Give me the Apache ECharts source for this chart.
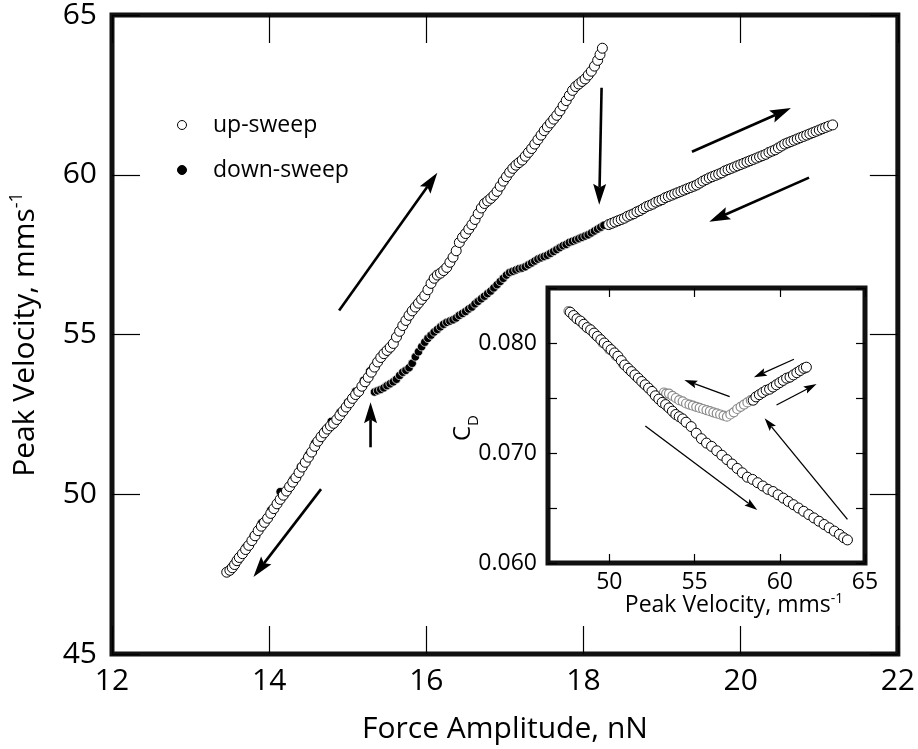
<!DOCTYPE html>
<html><head><meta charset="utf-8">
<script src="https://cdn.jsdelivr.net/npm/echarts@6/dist/echarts.min.js"></script>
<style>html,body{margin:0;padding:0;background:#fff}#c{width:918px;height:749px}</style>
</head><body><div id="c"></div>
<script>
// ---------- main panel data: Force amplitude (nN) vs peak velocity (mm/s) ----------
const upUpperF = [13.46,13.50,13.53,13.56,13.59,13.62,13.66,13.70,13.74,13.78,13.82,13.86,13.90,13.94,13.98,14.02,14.06,14.10,14.14,14.18,14.22,14.26,14.30,14.34,14.38,14.42,14.46,14.50,14.54,14.58,14.62,14.66,14.70,14.74,14.78,14.82,14.86,14.90,14.94,14.98,15.02,15.06,15.10,15.14,15.18,15.22,15.26,15.30,15.34,15.38,15.42,15.46,15.50,15.54,15.58,15.62,15.66,15.70,15.74,15.78,15.82,15.86,15.90,15.94,15.98,16.02,16.06,16.10,16.14,16.18,16.22,16.26,16.30,16.34,16.38,16.42,16.46,16.50,16.54,16.58,16.62,16.66,16.70,16.74,16.78,16.82,16.86,16.90,16.94,16.98,17.02,17.06,17.10,17.14,17.18,17.22,17.26,17.30,17.34,17.38,17.42,17.46,17.50,17.54,17.58,17.62,17.66,17.70,17.74,17.78,17.82,17.86,17.90,17.94,17.98,18.02,18.06,18.10,18.14,18.18,18.21,18.24];
const upUpperV = [47.56,47.62,47.70,47.80,47.92,48.02,48.14,48.27,48.40,48.55,48.70,48.86,49.00,49.12,49.25,49.40,49.55,49.70,49.84,49.97,50.10,50.24,50.38,50.52,50.68,50.85,51.00,51.16,51.32,51.50,51.66,51.80,51.92,52.04,52.14,52.22,52.34,52.47,52.60,52.73,52.86,53.00,53.12,53.22,53.38,53.52,53.66,53.82,53.98,54.14,54.28,54.40,54.50,54.60,54.72,54.92,55.10,55.28,55.44,55.60,55.74,55.86,55.98,56.10,56.22,56.40,56.60,56.76,56.86,56.92,57.00,57.10,57.26,57.42,57.62,57.88,58.04,58.16,58.30,58.44,58.60,58.78,58.96,59.10,59.18,59.26,59.36,59.48,59.64,59.80,59.94,60.08,60.20,60.30,60.38,60.46,60.58,60.70,60.82,60.96,61.10,61.24,61.38,61.50,61.62,61.74,61.86,62.00,62.16,62.32,62.48,62.64,62.76,62.84,62.92,63.00,63.12,63.24,63.40,63.58,63.76,63.96];
const upLowerF = [18.32,18.36,18.40,18.44,18.48,18.52,18.56,18.60,18.64,18.68,18.72,18.76,18.80,18.84,18.88,18.92,18.96,19.00,19.04,19.08,19.12,19.16,19.20,19.24,19.28,19.32,19.36,19.40,19.44,19.48,19.52,19.56,19.60,19.64,19.68,19.72,19.76,19.80,19.84,19.88,19.92,19.96,20.00,20.04,20.08,20.12,20.16,20.20,20.24,20.28,20.32,20.36,20.40,20.44,20.48,20.52,20.56,20.60,20.64,20.68,20.72,20.76,20.80,20.84,20.88,20.92,20.96,21.00,21.04,21.08,21.12,21.17];
const upLowerV = [58.44,58.48,58.52,58.56,58.60,58.64,58.70,58.74,58.78,58.84,58.88,58.94,59.00,59.04,59.08,59.14,59.18,59.22,59.28,59.32,59.36,59.40,59.44,59.48,59.52,59.56,59.60,59.64,59.68,59.74,59.80,59.85,59.90,59.94,59.98,60.02,60.06,60.12,60.16,60.20,60.24,60.28,60.32,60.36,60.40,60.44,60.48,60.52,60.56,60.60,60.64,60.70,60.74,60.78,60.84,60.90,60.96,61.00,61.04,61.08,61.12,61.16,61.20,61.24,61.28,61.32,61.36,61.40,61.44,61.48,61.52,61.56];
const downLowerF = [15.34,15.38,15.42,15.46,15.50,15.54,15.58,15.62,15.66,15.70,15.74,15.78,15.82,15.86,15.90,15.94,15.98,16.02,16.06,16.10,16.14,16.18,16.22,16.26,16.30,16.34,16.38,16.42,16.46,16.50,16.54,16.58,16.62,16.66,16.70,16.74,16.78,16.82,16.86,16.90,16.94,16.98,17.02,17.06,17.10,17.14,17.18,17.22,17.26,17.30,17.34,17.38,17.42,17.46,17.50,17.54,17.58,17.62,17.66,17.70,17.74,17.78,17.82,17.86,17.90,17.94,17.98,18.02,18.06,18.10,18.14,18.18,18.22,18.26,18.40,18.60,18.80,18.91,19.10,19.40,19.70,20.00,20.30,20.60,20.90,21.15];
const downLowerV = [53.20,53.24,53.28,53.33,53.40,53.46,53.52,53.60,53.72,53.82,53.88,53.96,54.10,54.30,54.46,54.62,54.76,54.88,54.98,55.08,55.16,55.24,55.32,55.38,55.42,55.46,55.52,55.60,55.66,55.72,55.80,55.86,55.96,56.04,56.12,56.20,56.28,56.36,56.46,56.56,56.66,56.76,56.86,56.94,56.98,57.02,57.06,57.08,57.12,57.18,57.24,57.30,57.36,57.40,57.44,57.48,57.54,57.60,57.66,57.72,57.78,57.82,57.88,57.92,57.96,58.00,58.04,58.08,58.12,58.18,58.24,58.30,58.36,58.42,58.54,58.75,59.02,59.16,59.34,59.62,60.00,60.30,60.62,60.98,61.30,61.54];
const downUpperF = [15.28,15.20,15.10,15.00,14.90,14.79,14.70,14.58,14.50,14.40,14.30,14.14,14.02,13.90,13.80,13.70,13.60,13.52];
const downUpperV = [53.86,53.56,53.22,52.88,52.56,52.28,51.98,51.60,51.24,50.86,50.46,50.08,49.50,49.10,48.70,48.34,48.00,47.72];

// ---------- inset data: drag coefficient vs peak velocity ----------
const insetUpV = [47.70,47.90,48.10,48.30,48.50,48.70,48.90,49.10,49.30,49.50,49.70,49.90,50.10,50.30,50.50,50.70,50.90,51.10,51.30,51.50,51.70,51.90,52.10,52.30,52.50,52.70,52.90,53.10,53.30,53.50,53.70,53.90,54.10,54.30,54.50,54.80,55.10,55.40,55.70,56.00,56.30,56.60,56.90,57.20,57.50,57.80,58.10,58.40,58.70,59.00,59.30,59.60,59.90,60.20,60.50,60.80,61.10,61.40,61.70,62.00,62.30,62.60,62.90,63.20,63.50,63.75,63.97,
  58.44,58.60,58.80,59.00,59.20,59.40,59.60,59.80,60.00,60.20,60.40,60.60,60.80,61.00,61.20,61.40,61.56];
const insetUpCD = [0.0828,0.0825,0.0822,0.0820,0.0817,0.0814,0.0812,0.0809,0.0806,0.0803,0.0800,0.0797,0.0794,0.0791,0.0788,0.0784,0.0780,0.0777,0.0774,0.0771,0.0768,0.0765,0.0762,0.0759,0.0756,0.0752,0.0749,0.0746,0.0744,0.0741,0.0738,0.0735,0.0733,0.0731,0.0728,0.0724,0.0718,0.0713,0.0709,0.0706,0.0702,0.0698,0.0694,0.0690,0.0686,0.0682,0.0678,0.0676,0.0673,0.0670,0.0667,0.0665,0.0662,0.0659,0.0656,0.0653,0.0650,0.0647,0.0644,0.0641,0.0638,0.0635,0.0632,0.0629,0.0626,0.0623,0.0621,
  0.0748,0.0751,0.0753,0.0755,0.0757,0.0758,0.0760,0.0762,0.0764,0.0766,0.0768,0.0769,0.0771,0.0773,0.0775,0.0777,0.0778];
const insetDownV = [53.20,53.33,53.50,53.70,53.90,54.10,54.30,54.50,54.70,54.90,55.10,55.30,55.50,55.70,55.90,56.10,56.30,56.50,56.70,56.90,57.10,57.30,57.50,57.70,57.90,58.10,58.30,58.60,59.00,59.50,60.00,60.50,61.00,61.50,
  53.80,53.40,53.00,52.60,52.30,52.00,51.60,51.20,50.80,50.40,50.00,49.60,49.20,48.80,48.40,48.00,47.60];
const insetDownCD = [0.0755,0.0754,0.0754,0.0752,0.0750,0.0748,0.0747,0.0745,0.0744,0.0743,0.0742,0.0741,0.0740,0.0739,0.0738,0.0737,0.0736,0.0735,0.0734,0.0733,0.0735,0.0737,0.0740,0.0742,0.0744,0.0746,0.0748,0.0751,0.0755,0.0759,0.0764,0.0768,0.0773,0.0777,
  0.0736,0.0742,0.0748,0.0754,0.0759,0.0763,0.0769,0.0775,0.0781,0.0788,0.0794,0.0800,0.0807,0.0813,0.0819,0.0824,0.0829];

// ---------- axes / ticks ----------
const mainXTicks = [12,14,16,18,20,22];
const mainYTicks = [45,50,55,60,65];
const insetXTicks = [50,55,60,65];
const insetYTicks = [0.060,0.065,0.070,0.075,0.080,0.085];
const insetYLabels = [0.060,0.070,0.080];

// ---------- annotation arrows (data units) ----------
const mainArrows = [[14.89,55.75,16.14,60.06],[18.23,62.72,18.20,59.06],[19.38,60.72,20.64,62.09],[20.87,59.91,19.60,58.53],[15.29,51.47,15.29,52.88],[14.66,50.16,13.80,47.41]];
const insetArrows = [[60.83,0.07852,58.48,0.07688],[57.06,0.07512,54.40,0.07664],[59.81,0.07436,62.16,0.07627],[63.97,0.06397,59.11,0.07315],[52.11,0.07245,58.68,0.06482]];

const zip = (a,b) => a.map((v,i)=>[v,b[i]]);
const FF = '"Open Sans", sans-serif';

const chart = echarts.init(document.getElementById('c'), null, {renderer:'canvas'});
const tickAx = (len) => ({show:true, inside:true, length:len, lineStyle:{color:'#000', width:1.2}});

const option = {
  animation:false,
  backgroundColor:'#fff',
  grid:[
    {left:112, top:15, width:793, height:640, show:true, borderColor:'#111', borderWidth:5, backgroundColor:'transparent', z:0},
    {left:548, top:288, width:317, height:275, show:true, borderColor:'#111', borderWidth:5, backgroundColor:'#fff', z:5}
  ],
  xAxis:[
    {gridIndex:0, type:'value', min:12, max:22, interval:2, position:'bottom',
     axisLine:{show:false}, axisTick:tickAx(28), splitLine:{show:false},
     axisLabel:{fontSize:30, color:'#000', fontFamily:FF, margin:12, showMinLabel:true, showMaxLabel:true, customValues: mainXTicks},
     name:'Force Amplitude, nN', nameLocation:'middle', nameGap:60,
     nameTextStyle:{fontSize:30, color:'#000', fontFamily:FF}},
    {gridIndex:0, type:'value', min:12, max:22, interval:2, position:'top',
     axisLine:{show:false}, axisTick:tickAx(28), splitLine:{show:false}, axisLabel:{show:false}},
    {gridIndex:1, type:'value', min:46.4, max:65, position:'bottom', z:6,
     axisLine:{show:false}, axisTick:{show:true, inside:true, length:9, lineStyle:{color:'#000', width:1.2}, customValues:insetXTicks},
     splitLine:{show:false},
     axisLabel:{fontSize:23, color:'#000', fontFamily:FF, margin:8, customValues:insetXTicks}},
    {gridIndex:1, type:'value', min:46.4, max:65, position:'top', z:6,
     axisLine:{show:false}, axisTick:{show:true, inside:true, length:9, lineStyle:{color:'#000', width:1.2}, customValues:insetXTicks},
     splitLine:{show:false}, axisLabel:{show:false}}
  ],
  yAxis:[
    {gridIndex:0, type:'value', min:45, max:65, interval:5, position:'left',
     axisLine:{show:false}, axisTick:tickAx(28), splitLine:{show:false},
     axisLabel:{fontSize:30, color:'#000', fontFamily:FF, margin:15, customValues: mainYTicks},
     name:'{n|Peak Velocity, mms}{s|-1}', nameLocation:'middle', nameGap:70,
     nameTextStyle:{fontSize:30, color:'#000', fontFamily:FF,
       rich:{n:{fontSize:30, fontFamily:FF, color:'#000', lineHeight:34}, s:{fontSize:18, fontFamily:FF, color:'#000', verticalAlign:'top', lineHeight:34}}}},
    {gridIndex:0, type:'value', min:45, max:65, interval:5, position:'right',
     axisLine:{show:false}, axisTick:tickAx(28), splitLine:{show:false}, axisLabel:{show:false}},
    {gridIndex:1, type:'value', min:0.060, max:0.085, interval:0.005, position:'left', z:6,
     axisLine:{show:false}, axisTick:{show:true, inside:true, length:9, lineStyle:{color:'#000', width:1.2}, customValues:insetYTicks},
     splitLine:{show:false},
     axisLabel:{fontSize:23, color:'#000', fontFamily:FF, margin:11, customValues:insetYLabels, formatter:(v)=>Number(v).toFixed(3)}},
    {gridIndex:1, type:'value', min:0.060, max:0.085, interval:0.005, position:'right', z:6,
     axisLine:{show:false}, axisTick:{show:true, inside:true, length:9, lineStyle:{color:'#000', width:1.2}, customValues:insetYTicks},
     splitLine:{show:false}, axisLabel:{show:false}}
  ],
  series:[
    {name:'down-sweep', type:'scatter', xAxisIndex:0, yAxisIndex:0, z:2,
     data: zip(downLowerF,downLowerV).concat(zip(downUpperF,downUpperV)),
     symbol:'circle', symbolSize:8.5, itemStyle:{color:'#000', borderColor:'#fff', borderWidth:0.7, opacity:1}},
    {name:'up-sweep', type:'scatter', xAxisIndex:0, yAxisIndex:0, z:3,
     data: zip(upUpperF,upUpperV).concat(zip(upLowerF,upLowerV)),
     symbol:'circle', symbolSize:10, itemStyle:{color:'#fff', borderColor:'#000', borderWidth:1, opacity:1}},
    {name:'down-sweep-inset', type:'scatter', xAxisIndex:2, yAxisIndex:2, z:6,
     data: zip(insetDownV,insetDownCD),
     symbol:'circle', symbolSize:9, itemStyle:{color:'#fff', borderColor:'#8a8a8a', borderWidth:1.2, opacity:1}},
    {name:'up-sweep-inset', type:'scatter', xAxisIndex:2, yAxisIndex:2, z:7,
     data: zip(insetUpV,insetUpCD),
     symbol:'circle', symbolSize:10, itemStyle:{color:'#fff', borderColor:'#000', borderWidth:1, opacity:1}}
  ]
};
chart.setOption(option);

function arrowEls(p1, p2, w, headLen, headHalf){
  const dx=p2[0]-p1[0], dy=p2[1]-p1[1], L=Math.hypot(dx,dy), ux=dx/L, uy=dy/L, nx=-uy, ny=ux;
  const bx=p2[0]-ux*headLen, by=p2[1]-uy*headLen;
  const mx=p2[0]-ux*headLen*0.82, my=p2[1]-uy*headLen*0.82;
  return [
    {type:'line', z:20, shape:{x1:p1[0],y1:p1[1],x2:mx,y2:my}, style:{stroke:'#000', lineWidth:w}},
    {type:'polygon', z:20, shape:{points:[[p2[0],p2[1]],[bx+nx*headHalf,by+ny*headHalf],[mx,my],[bx-nx*headHalf,by-ny*headHalf]]}, style:{fill:'#000'}}
  ];
}
const g = [];
mainArrows.forEach(a=>{
  const p1=chart.convertToPixel({gridIndex:0},[a[0],a[1]]), p2=chart.convertToPixel({gridIndex:0},[a[2],a[3]]);
  g.push(...arrowEls(p1,p2,2.6,21,6.5));
});
insetArrows.forEach(a=>{
  const p1=chart.convertToPixel({xAxisIndex:2,yAxisIndex:2},[a[0],a[1]]), p2=chart.convertToPixel({xAxisIndex:2,yAxisIndex:2},[a[2],a[3]]);
  g.push(...arrowEls(p1,p2,1.3,13,4));
});
// legend
g.push({type:'circle', z:20, shape:{cx:182, cy:125, r:4.5}, style:{fill:'#fff', stroke:'#000', lineWidth:1}});
g.push({type:'text', z:20, x:213, y:125, style:{text:'up-sweep', fill:'#000', font:'23px "Open Sans", sans-serif', textVerticalAlign:'middle', verticalAlign:'middle'}});
g.push({type:'circle', z:20, shape:{cx:182, cy:170, r:4.5}, style:{fill:'#000', stroke:'#000', lineWidth:1}});
g.push({type:'text', z:20, x:213, y:170, style:{text:'down-sweep', fill:'#000', font:'23px "Open Sans", sans-serif', textVerticalAlign:'middle', verticalAlign:'middle'}});
// inset axis titles
g.push({type:'text', z:20, x:734, y:605, style:{text:'{n|Peak Velocity, mms}{s|-1}', align:'center', verticalAlign:'middle', textAlign:'center', textVerticalAlign:'middle',
  rich:{n:{fontSize:23, fontFamily:FF, fill:'#000', color:'#000', lineHeight:26}, s:{fontSize:14, fontFamily:FF, fill:'#000', color:'#000', verticalAlign:'top', lineHeight:26}}}});
g.push({type:'text', z:20, x:463, y:428, rotation:Math.PI/2, style:{text:'{c|C}{d|D}', align:'center', verticalAlign:'middle', textAlign:'center', textVerticalAlign:'middle',
  rich:{c:{fontSize:24, fontFamily:FF, fill:'#000', color:'#000', lineHeight:28}, d:{fontSize:15, fontFamily:FF, fill:'#000', color:'#000', verticalAlign:'bottom', lineHeight:28, padding:[0,0,-4,0]}}}});
chart.setOption({graphic:g});
</script>
</body></html>
